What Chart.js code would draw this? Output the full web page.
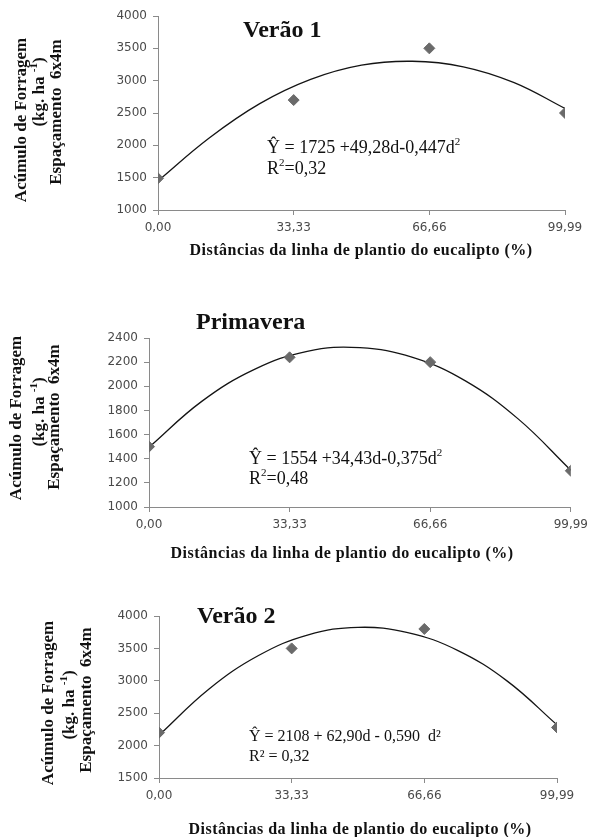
<!DOCTYPE html>
<html>
<head>
<meta charset="utf-8">
<script src="https://cdn.jsdelivr.net/npm/chart.js@4.4.1/dist/chart.umd.min.js"></script>
<style>
    body { margin: 0; background: #fff; }
    #wrap { position: relative; width: 594px; height: 837px; background: #fff; }
    canvas { position: absolute; left: 0; }
</style>
</head>
<body>
<div id="wrap">
    <canvas id="chart1" width="594" height="272" style="top:0px"></canvas>
    <canvas id="chart2" width="594" height="285" style="top:285px"></canvas>
    <canvas id="chart3" width="594" height="262" style="top:575px"></canvas>
</div>
<script>
// Data
const xTicks = [0, 33.33, 66.66, 99.99];
const curveX = [0, 12.5, 25, 37.5, 50, 62.5, 75, 87.5, 99.99];

const verao1Points = [1490, 2700, 3500, 2500];
const verao1Curve = [1450, 2110, 2645, 3020, 3240, 3300, 3215, 2970, 2570];

const primaveraPoints = [1500, 2240, 2200, 1300];
const primaveraCurve = [1495, 1875, 2140, 2290, 2320, 2240, 2045, 1730, 1305];

const verao2Points = [2200, 3500, 3800, 2280];
const verao2Curve = [2160, 2870, 3390, 3710, 3825, 3745, 3470, 2995, 2320];

const SERIF = "'Liberation Serif', 'Times New Roman', serif";
const axisColor = '#8a8a8a';
const tickFont = { family: "'DejaVu Sans', sans-serif", size: 12 };

// Draws text runs, superscripts are smaller and raised
function drawRuns(ctx, runs, x, y, size, weight) {
    let cx = x;
    runs.forEach(r => {
        const s = r.sup ? Math.round(size * 0.62) : size;
        ctx.font = (weight || 'normal') + ' ' + s + 'px ' + SERIF;
        ctx.fillText(r.t, cx, r.sup ? y - size * 0.42 : y);
        cx += ctx.measureText(r.t).width;
    });
    return cx - x;
}

function measureRuns(ctx, runs, size, weight) {
    let w = 0;
    runs.forEach(r => {
        const s = r.sup ? Math.round(size * 0.62) : size;
        ctx.font = (weight || 'normal') + ' ' + s + 'px ' + SERIF;
        w += ctx.measureText(r.t).width;
    });
    return w;
}

const notesPlugin = {
    id: 'notes',
    afterDraw(chart, args, opts) {
        const ctx = chart.ctx;
        ctx.save();
        ctx.fillStyle = '#111';
        ctx.textBaseline = 'alphabetic';
        ctx.textAlign = 'left';

        // title
        ctx.font = 'bold 24px ' + SERIF;
        ctx.fillText(opts.title, opts.titleX, opts.titleY + 8);

        // equation + R2
        drawRuns(ctx, opts.eq, opts.eqX, opts.eqY + opts.eqSize * 0.33, opts.eqSize);
        drawRuns(ctx, opts.r2, opts.eqX, opts.r2Y + opts.eqSize * 0.33, opts.eqSize);

        // x axis title
        ctx.font = 'bold 16px ' + SERIF;
        ctx.letterSpacing = '0.5px';
        ctx.textAlign = 'center';
        ctx.fillText('Distâncias da linha de plantio do eucalipto (%)', opts.xTitleX, opts.xTitleY + 5);
        ctx.letterSpacing = '0px';

        // y axis title (three rotated lines)
        ctx.textAlign = 'left';
        opts.yLines.forEach(line => {
            ctx.save();
            ctx.translate(line.x, line.y);
            ctx.rotate(-Math.PI / 2);
            const w = measureRuns(ctx, line.runs, 17, 'bold');
            drawRuns(ctx, line.runs, -w / 2, 6, 17, 'bold');
            ctx.restore();
        });
        ctx.restore();
    }
};

function yTitle(x1, y1, x2, y2, x3, y3) {
    return [
        { x: x1, y: y1, runs: [{ t: 'Acúmulo de Forragem' }] },
        { x: x2, y: y2, runs: [{ t: '(kg. ha ' }, { t: '-1', sup: true }, { t: ')' }] },
        { x: x3, y: y3, runs: [{ t: 'Espaçamento  6x4m' }] }
    ];
}

function makeChart(id, o) {
    const canvas = document.getElementById(id);
    const H = canvas.height;
    return new Chart(canvas, {
        type: 'line',
        data: {
            datasets: [{
                data: curveX.map((x, i) => ({ x: x, y: o.curve[i] })),
                borderColor: '#141414',
                borderWidth: 1.3,
                pointRadius: 0,
                tension: 0.4,
                fill: false,
                order: 1
            }, {
                data: xTicks.map((x, i) => ({ x: x, y: o.points[i] })),
                showLine: false,
                pointStyle: 'rectRot',
                pointRadius: 5.5,
                pointBackgroundColor: '#6a6a6a',
                pointBorderColor: '#6a6a6a',
                order: 0
            }]
        },
        options: {
            responsive: false,
            animation: false,
            devicePixelRatio: 1,
            layout: { padding: { left: 0, right: 594 - o.right, top: o.top, bottom: 0 } },
            plugins: {
                legend: { display: false },
                tooltip: { enabled: false },
                notes: o.notes
            },
            scales: {
                x: {
                    type: 'linear',
                    min: 0,
                    max: 99.99,
                    afterBuildTicks: s => { s.ticks = xTicks.map(v => ({ value: v })); },
                    afterFit: s => { s.height = H - o.bottom; },
                    ticks: {
                        callback: v => v.toFixed(2).replace('.', ','),
                        font: tickFont, color: '#4a4a4a', padding: 6,
                        autoSkip: false, maxRotation: 0
                    },
                    grid: { drawOnChartArea: false, tickLength: 5, color: axisColor },
                    border: { color: axisColor }
                },
                y: {
                    min: o.yMin,
                    max: o.yMax,
                    afterFit: s => { s.width = o.left; },
                    ticks: {
                        stepSize: o.step,
                        callback: v => String(v),
                        font: tickFont, color: '#4a4a4a', padding: 6
                    },
                    grid: { drawOnChartArea: false, tickLength: 5, color: axisColor },
                    border: { color: axisColor }
                }
            }
        },
        plugins: [notesPlugin]
    });
}

makeChart('chart1', {
    points: verao1Points, curve: verao1Curve,
    yMin: 1000, yMax: 4000, step: 500,
    left: 158, right: 565, top: 16, bottom: 210,
    notes: {
        title: 'Verão 1', titleX: 243, titleY: 29,
        eq: [{ t: 'Ŷ = 1725 +49,28d-0,447d' }, { t: '2', sup: true }],
        r2: [{ t: 'R' }, { t: '2', sup: true }, { t: '=0,32' }],
        eqX: 267, eqY: 147, r2Y: 168, eqSize: 18,
        xTitleX: 361, xTitleY: 250,
        yLines: yTitle(20, 120, 38, 92, 55, 112)
    }
});

makeChart('chart2', {
    points: primaveraPoints, curve: primaveraCurve,
    yMin: 1000, yMax: 2400, step: 200,
    left: 149, right: 577, top: 53, bottom: 222,
    notes: {
        title: 'Primavera', titleX: 196, titleY: 36,
        eq: [{ t: 'Ŷ = 1554 +34,43d-0,375d' }, { t: '2', sup: true }],
        r2: [{ t: 'R' }, { t: '2', sup: true }, { t: '=0,48' }],
        eqX: 249, eqY: 173, r2Y: 193, eqSize: 18,
        xTitleX: 342, xTitleY: 268,
        yLines: yTitle(15, 133, 38, 127, 53, 132)
    }
});

makeChart('chart3', {
    points: verao2Points, curve: verao2Curve,
    yMin: 1500, yMax: 4000, step: 500,
    left: 159, right: 557, top: 41, bottom: 203,
    notes: {
        title: 'Verão 2', titleX: 197, titleY: 40,
        eq: [{ t: 'Ŷ = 2108 + 62,90d - 0,590  d²' }],
        r2: [{ t: 'R² = 0,32' }],
        eqX: 249, eqY: 161, r2Y: 181, eqSize: 16,
        xTitleX: 360, xTitleY: 254,
        yLines: yTitle(47, 128, 68, 130, 85, 125)
    }
});
</script>
</body>
</html>
